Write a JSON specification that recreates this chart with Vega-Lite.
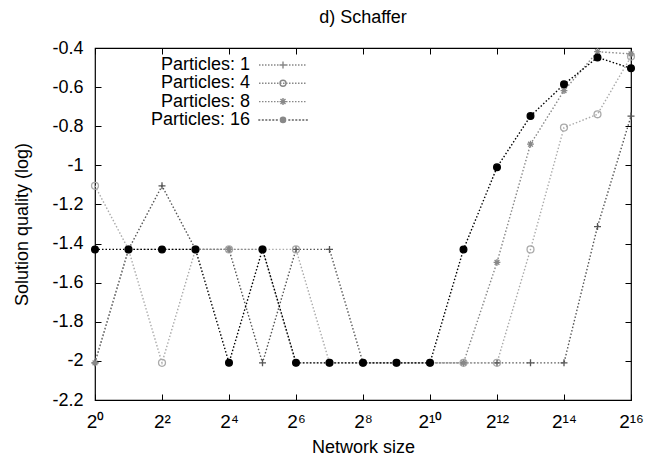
{
  "$schema": "https://vega.github.io/schema/vega-lite/v6.json",
  "width": 536,
  "height": 352,
  "autosize": {"type": "none"},
  "padding": {"left": 95, "top": 48, "right": 16, "bottom": 57},
  "background": "white",
  "config": {
    "font": "Liberation Sans",
    "view": {"stroke": "black", "strokeWidth": 1.2},
    "axis": {"domain": false, "tickColor": "black", "tickSize": -6, "tickWidth": 1, "grid": false, "labelColor": "black", "titleColor": "black", "labelFont": "Liberation Sans", "titleFont": "Liberation Sans", "titleFontWeight": "normal"}
  },
  "title": {"text": "d) Schaffer", "fontSize": 18, "fontWeight": "normal", "font": "Liberation Sans", "offset": 12, "color": "black"},
  "data": {"values": [
    {"series": "Particles: 1", "e": 0, "v": -2.01}, {"series": "Particles: 1", "e": 1, "v": -1.43}, {"series": "Particles: 1", "e": 2, "v": -1.105}, {"series": "Particles: 1", "e": 3, "v": -1.43}, {"series": "Particles: 1", "e": 4, "v": -1.43}, {"series": "Particles: 1", "e": 5, "v": -2.01}, {"series": "Particles: 1", "e": 6, "v": -1.43}, {"series": "Particles: 1", "e": 7, "v": -1.43}, {"series": "Particles: 1", "e": 8, "v": -2.01}, {"series": "Particles: 1", "e": 9, "v": -2.01}, {"series": "Particles: 1", "e": 10, "v": -2.01}, {"series": "Particles: 1", "e": 11, "v": -2.01}, {"series": "Particles: 1", "e": 12, "v": -2.01}, {"series": "Particles: 1", "e": 13, "v": -2.01}, {"series": "Particles: 1", "e": 14, "v": -2.01}, {"series": "Particles: 1", "e": 15, "v": -1.313}, {"series": "Particles: 1", "e": 16, "v": -0.748},
    {"series": "Particles: 4", "e": 0, "v": -1.105}, {"series": "Particles: 4", "e": 1, "v": -1.43}, {"series": "Particles: 4", "e": 2, "v": -2.01}, {"series": "Particles: 4", "e": 3, "v": -1.43}, {"series": "Particles: 4", "e": 4, "v": -1.43}, {"series": "Particles: 4", "e": 5, "v": -1.43}, {"series": "Particles: 4", "e": 6, "v": -1.43}, {"series": "Particles: 4", "e": 7, "v": -2.01}, {"series": "Particles: 4", "e": 8, "v": -2.01}, {"series": "Particles: 4", "e": 9, "v": -2.01}, {"series": "Particles: 4", "e": 10, "v": -2.01}, {"series": "Particles: 4", "e": 11, "v": -2.01}, {"series": "Particles: 4", "e": 12, "v": -2.01}, {"series": "Particles: 4", "e": 13, "v": -1.43}, {"series": "Particles: 4", "e": 14, "v": -0.807}, {"series": "Particles: 4", "e": 15, "v": -0.739}, {"series": "Particles: 4", "e": 16, "v": -0.444},
    {"series": "Particles: 8", "e": 0, "v": -2.01}, {"series": "Particles: 8", "e": 1, "v": -1.43}, {"series": "Particles: 8", "e": 2, "v": -1.43}, {"series": "Particles: 8", "e": 3, "v": -1.43}, {"series": "Particles: 8", "e": 4, "v": -1.43}, {"series": "Particles: 8", "e": 5, "v": -1.43}, {"series": "Particles: 8", "e": 6, "v": -2.01}, {"series": "Particles: 8", "e": 7, "v": -2.01}, {"series": "Particles: 8", "e": 8, "v": -2.01}, {"series": "Particles: 8", "e": 9, "v": -2.01}, {"series": "Particles: 8", "e": 10, "v": -2.01}, {"series": "Particles: 8", "e": 11, "v": -2.01}, {"series": "Particles: 8", "e": 12, "v": -1.496}, {"series": "Particles: 8", "e": 13, "v": -0.892}, {"series": "Particles: 8", "e": 14, "v": -0.618}, {"series": "Particles: 8", "e": 15, "v": -0.419}, {"series": "Particles: 8", "e": 16, "v": -0.43},
    {"series": "Particles: 16", "e": 0, "v": -1.43}, {"series": "Particles: 16", "e": 1, "v": -1.43}, {"series": "Particles: 16", "e": 2, "v": -1.43}, {"series": "Particles: 16", "e": 3, "v": -1.43}, {"series": "Particles: 16", "e": 4, "v": -2.01}, {"series": "Particles: 16", "e": 5, "v": -1.43}, {"series": "Particles: 16", "e": 6, "v": -2.01}, {"series": "Particles: 16", "e": 7, "v": -2.01}, {"series": "Particles: 16", "e": 8, "v": -2.01}, {"series": "Particles: 16", "e": 9, "v": -2.01}, {"series": "Particles: 16", "e": 10, "v": -2.01}, {"series": "Particles: 16", "e": 11, "v": -1.43}, {"series": "Particles: 16", "e": 12, "v": -1.01}, {"series": "Particles: 16", "e": 13, "v": -0.748}, {"series": "Particles: 16", "e": 14, "v": -0.586}, {"series": "Particles: 16", "e": 15, "v": -0.448}, {"series": "Particles: 16", "e": 16, "v": -0.504}
  ]},
  "layer": [
    {
      "mark": {"type": "line", "strokeDash": [1.5, 2], "clip": true},
      "encoding": {
        "x": {"field": "e", "type": "quantitative", "scale": {"domain": [0, 16], "nice": false, "zero": false},
          "axis": {"orient": "bottom", "values": [0, 2, 4, 6, 8, 10, 12, 14, 16], "labelExpr": "datum.value == 0 ? '2⁰' : datum.value == 2 ? '2²' : datum.value == 4 ? '2⁴' : datum.value == 6 ? '2⁶' : datum.value == 8 ? '2⁸' : datum.value == 10 ? '2¹⁰' : datum.value == 12 ? '2¹²' : datum.value == 14 ? '2¹⁴' : '2¹⁶'", "labelFontSize": 19, "labelPadding": 18, "title": "Network size", "titleFontSize": 18, "titlePadding": 7, "labelFlush": false}},
        "y": {"field": "v", "type": "quantitative", "scale": {"domain": [-2.2, -0.4], "nice": false, "zero": false},
          "axis": {"orient": "left", "values": [-2.2, -2, -1.8, -1.6, -1.4, -1.2, -1, -0.8, -0.6, -0.4], "labelExpr": "'' + datum.value", "labelFontSize": 18, "labelPadding": 18, "title": "Solution quality (log)", "titleFontSize": 18, "titlePadding": 20, "labelFlush": false}},
        "color": {"field": "series", "type": "nominal", "scale": {"domain": ["Particles: 1", "Particles: 4", "Particles: 8", "Particles: 16"], "range": ["#555555", "#aaaaaa", "#888888", "#000000"]}, "legend": null},
        "strokeWidth": {"field": "series", "type": "nominal", "scale": {"domain": ["Particles: 1", "Particles: 4", "Particles: 8", "Particles: 16"], "range": [1.4, 1.4, 1.4, 2]}, "legend": null},
        "detail": {"field": "series"}
      }
    },
    {
      "mark": {"type": "point", "filled": false, "strokeWidth": 1.3, "opacity": 1},
      "encoding": {
        "x": {"field": "e", "type": "quantitative", "axis": null},
        "y": {"field": "v", "type": "quantitative", "axis": null},
        "color": {"field": "series", "type": "nominal", "legend": null},
        "fill": {"field": "series", "type": "nominal", "scale": {"domain": ["Particles: 1", "Particles: 4", "Particles: 8", "Particles: 16"], "range": ["transparent", "transparent", "transparent", "#000000"]}, "legend": null},
        "shape": {"field": "series", "type": "nominal", "scale": {"domain": ["Particles: 1", "Particles: 4", "Particles: 8", "Particles: 16"], "range": ["M-1,0H1M0,-1V1", "circle", "M-1,0H1M0,-1V1M-0.7,-0.7L0.7,0.7M-0.7,0.7L0.7,-0.7", "circle"]}, "legend": null},
        "size": {"field": "series", "type": "nominal", "scale": {"domain": ["Particles: 1", "Particles: 4", "Particles: 8", "Particles: 16"], "range": [49, 45, 45, 36]}, "legend": null}
      }
    },
    {
      "transform": [{"filter": "false"}],
      "mark": {"type": "point", "filled": false, "strokeWidth": 1.4, "size": 4, "opacity": 1},
      "encoding": {
        "x": {"field": "e", "type": "quantitative", "axis": {"orient": "top", "values": [0, 2, 4, 6, 8, 10, 12, 14, 16], "labels": false, "title": null}},
        "y": {"field": "v", "type": "quantitative", "axis": {"orient": "right", "values": [-2.2, -2, -1.8, -1.6, -1.4, -1.2, -1, -0.8, -0.6, -0.4], "labels": false, "title": null}},
        "color": {"field": "series", "type": "nominal",
          "legend": {"orient": "none", "legendX": 179, "legendY": 8, "title": null, "labelFontSize": 18, "labelFont": "Liberation Sans", "labelColor": "black", "labelAlign": "right", "labelOffset": -42, "symbolSize": 4, "symbolStrokeWidth": 1.4, "symbolOpacity": 1, "rowPadding": 0.3, "padding": 0, "labelLimit": 300}},
        "shape": {"field": "series", "type": "nominal", "scale": {"domain": ["Particles: 1", "Particles: 4", "Particles: 8", "Particles: 16"], "range": [
          "M-24,0h1.5M-21,0h1.5M-18,0h1.5M-15,0h1.5M-12,0h1.5M-9,0h1.5M-6,0h1.5M-3,0h1.5M0,0h1.5M3,0h1.5M6,0h1.5M9,0h1.5M12,0h1.5M15,0h1.5M18,0h1.5M21,0h1.5M-3.5,0h7M0,-3.5v7",
          "M-24,0h1.5M-21,0h1.5M-18,0h1.5M-15,0h1.5M-12,0h1.5M-9,0h1.5M-6,0h1.5M-3,0h1.5M0,0h1.5M3,0h1.5M6,0h1.5M9,0h1.5M12,0h1.5M15,0h1.5M18,0h1.5M21,0h1.5M3,0A3,3 0 1,1 -3,0A3,3 0 1,1 3,0",
          "M-24,0h1.5M-21,0h1.5M-18,0h1.5M-15,0h1.5M-12,0h1.5M-9,0h1.5M-6,0h1.5M-3,0h1.5M0,0h1.5M3,0h1.5M6,0h1.5M9,0h1.5M12,0h1.5M15,0h1.5M18,0h1.5M21,0h1.5M-3.5,0h7M0,-3.5v7M-2.5,-2.5l5,5M-2.5,2.5l5,-5",
          "M-24,-0.3h0.6v0.6h-0.6zM-20.5,-0.3h0.6v0.6h-0.6zM-17,-0.3h0.6v0.6h-0.6zM-13.5,-0.3h0.6v0.6h-0.6zM-10,-0.3h0.6v0.6h-0.6zM-6.5,-0.3h0.6v0.6h-0.6zM6,-0.3h0.6v0.6h-0.6zM9.5,-0.3h0.6v0.6h-0.6zM13,-0.3h0.6v0.6h-0.6zM16.5,-0.3h0.6v0.6h-0.6zM20,-0.3h0.6v0.6h-0.6zM23.5,-0.3h0.6v0.6h-0.6zM2.6,0A2.6,2.6 0 1,1 -2.6,0A2.6,2.6 0 1,1 2.6,0M2,0A2,2 0 1,1 -2,0A2,2 0 1,1 2,0M1.4,0A1.4,1.4 0 1,1 -1.4,0A1.4,1.4 0 1,1 1.4,0M0.8,0A0.8,0.8 0 1,1 -0.8,0A0.8,0.8 0 1,1 0.8,0M-0.4,0h0.8"]},
          "legend": {"orient": "none", "legendX": 179, "legendY": 8, "title": null, "labelFontSize": 18, "labelFont": "Liberation Sans", "labelColor": "black", "labelAlign": "right", "labelOffset": -42, "symbolSize": 4, "symbolStrokeWidth": 1.4, "symbolOpacity": 1, "rowPadding": 0.3, "padding": 0, "labelLimit": 300}}
      }
    }
  ],
  "resolve": {"scale": {"shape": "independent", "size": "independent"}, "axis": {"x": "independent", "y": "independent"}, "legend": {"shape": "independent"}}
}
